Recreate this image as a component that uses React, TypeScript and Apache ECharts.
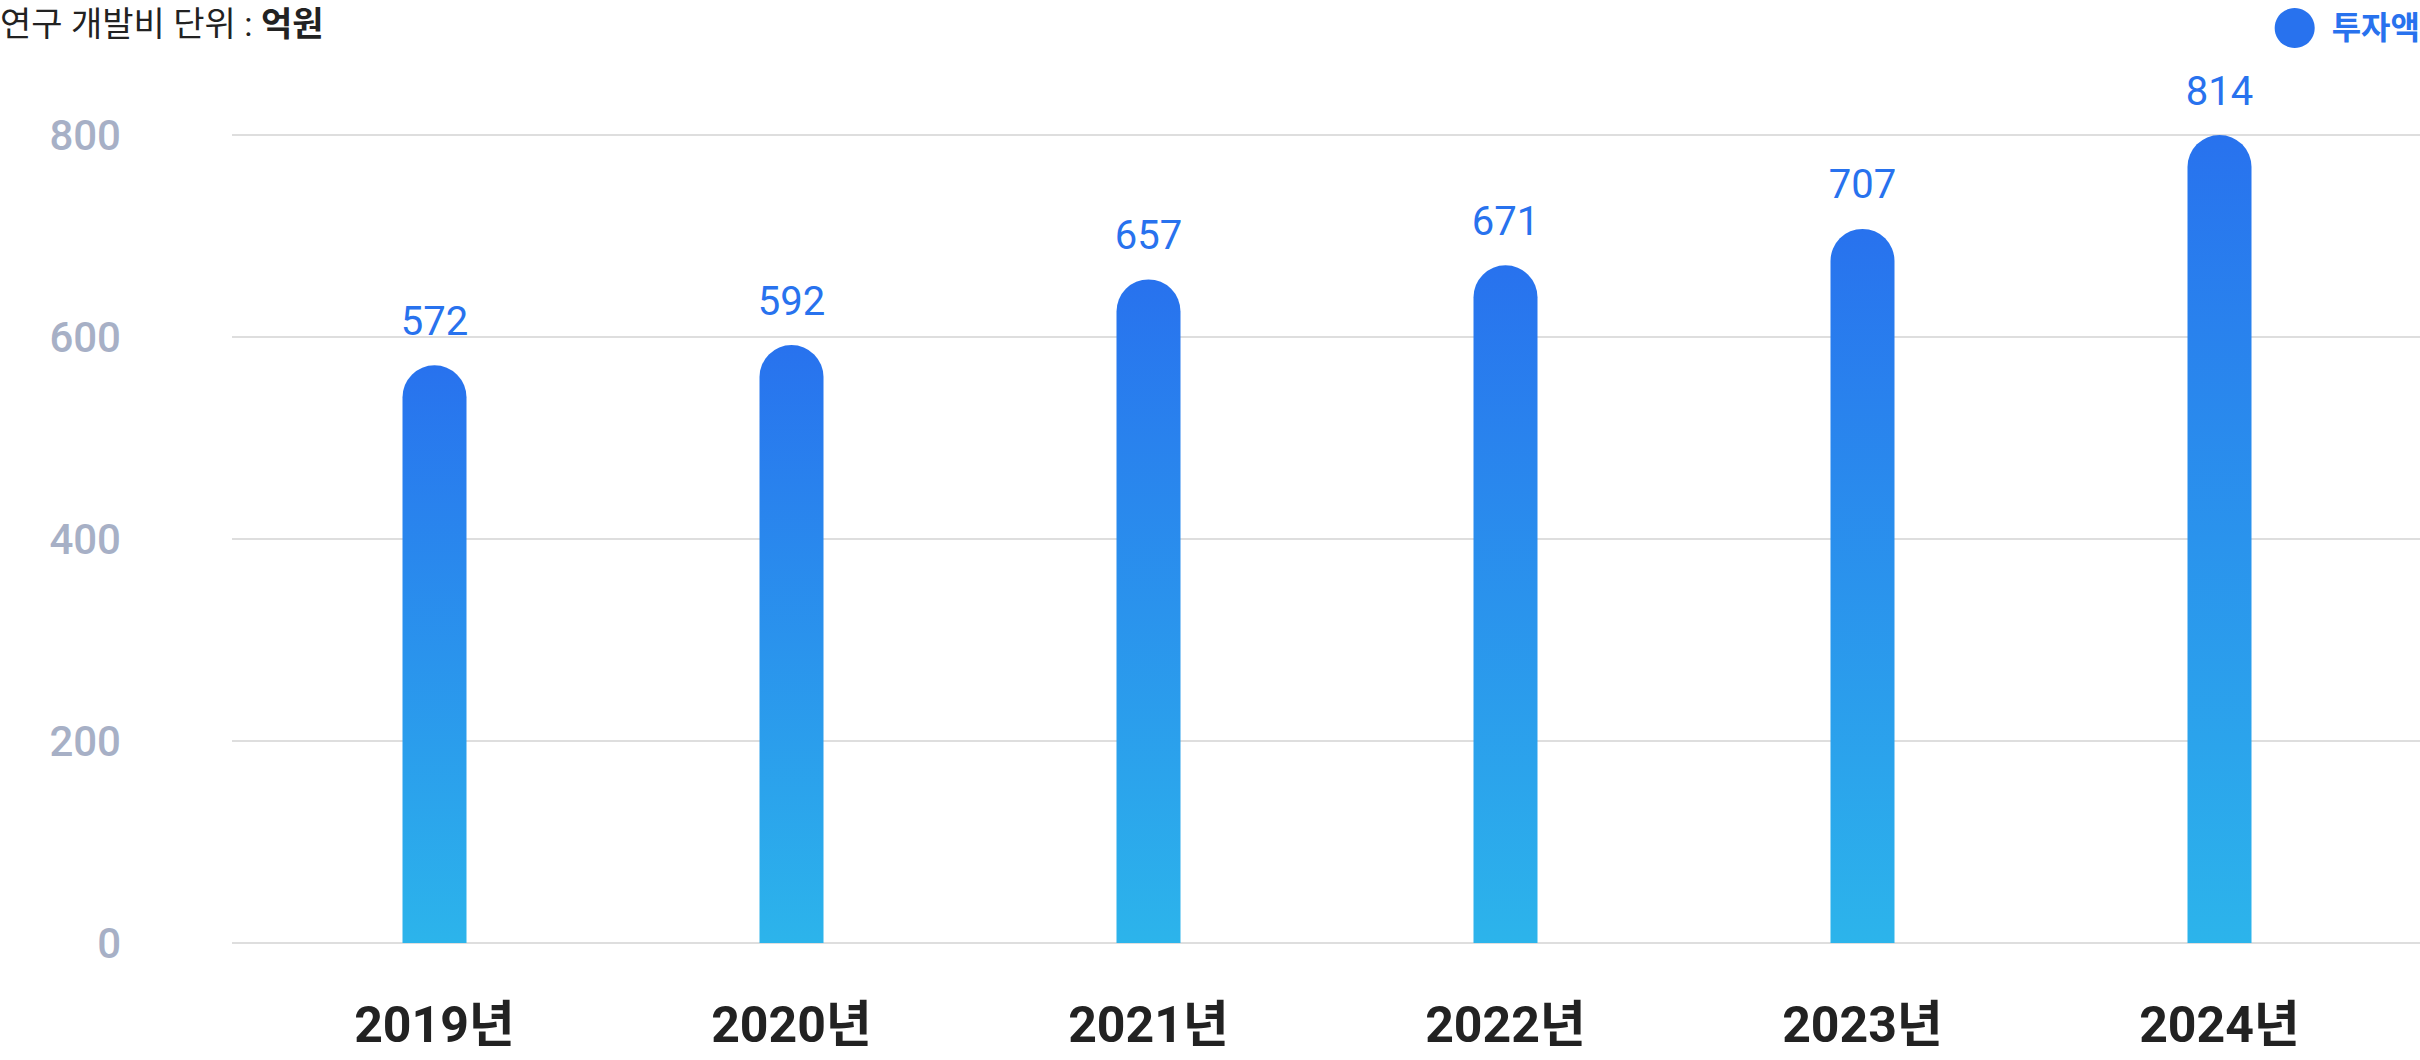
import React, { useEffect, useRef } from "react";
import * as echarts from "echarts";

const categories = ["2019년", "2020년", "2021년", "2022년", "2023년", "2024년"];
const investment = [572, 592, 657, 671, 707, 814];
const yTicks = { min: 0, max: 800, interval: 200 };
const seriesName = "투자액";
const titleMain = "연구 개발비 단위 : ";
const titleUnit = "억원";

const FONT = "Roboto, 'Noto Sans CJK KR', 'Noto Sans', sans-serif";

export default function App() {
  const ref = useRef<HTMLDivElement>(null);

  useEffect(() => {
    document.body.style.margin = "0";
    if (!ref.current) return;
    const chart = echarts.init(ref.current, null, { renderer: "svg" });
    const gradient = new echarts.graphic.LinearGradient(0, 0, 0, 1, [
      { offset: 0, color: "#2872ee" },
      { offset: 1, color: "#2cb4eb" },
    ]);
    chart.setOption({
      animation: false,
      backgroundColor: "#ffffff",
      textStyle: { fontFamily: FONT },
      title: {
        left: 0,
        top: 7,
        padding: 0,
        text: `{a|${titleMain}}{b|${titleUnit}}`,
        textStyle: {
          rich: {
            a: { fontSize: 34, color: "#222222", fontFamily: FONT, fontWeight: 400 },
            b: { fontSize: 34, color: "#222222", fontFamily: FONT, fontWeight: 700 },
          },
        },
      },
      legend: {
        right: 0,
        top: 8,
        padding: 0,
        icon: "circle",
        itemWidth: 40,
        itemHeight: 40,
        selectedMode: false,
        data: [{ name: seriesName, itemStyle: { color: "#2872ee" } }],
        textStyle: {
          fontSize: 32,
          fontWeight: 700,
          color: "#2872ee",
          fontFamily: FONT,
          padding: [0, 0, 0, 12],
        },
      },
      grid: [
        { left: 232, right: 0, top: 135, bottom: 117, containLabel: false },
        { left: 256, right: 22, top: 135, bottom: 117, containLabel: false },
      ],
      xAxis: [
        {
          type: "category",
          gridIndex: 0,
          data: categories,
          show: false,
        },
        {
          type: "category",
          gridIndex: 1,
          data: categories,
          axisLine: { show: false },
          axisTick: { show: false },
          axisLabel: {
            margin: 57,
            fontSize: 50,
            fontWeight: 700,
            color: "#222222",
            fontFamily: FONT,
          },
        },
      ],
      yAxis: [
        {
          type: "value",
          gridIndex: 0,
          min: yTicks.min,
          max: yTicks.max,
          interval: yTicks.interval,
          axisLine: { show: false },
          axisTick: { show: false },
          axisLabel: {
            margin: 111,
            fontSize: 42,
            fontWeight: 500,
            color: "#a7b0c6",
            fontFamily: FONT,
          },
          splitLine: { lineStyle: { color: "#dedede", width: 2 } },
        },
        {
          type: "value",
          gridIndex: 1,
          min: yTicks.min,
          max: yTicks.max,
          interval: yTicks.interval,
          show: false,
          splitLine: { show: false },
        },
      ],
      series: [
        {
          name: seriesName,
          type: "bar",
          xAxisIndex: 1,
          yAxisIndex: 1,
          data: investment,
          barWidth: 64,
          itemStyle: { color: gradient, borderRadius: [32, 32, 0, 0] },
          label: {
            show: true,
            position: "top",
            distance: 24,
            fontSize: 40,
            fontWeight: 400,
            color: "#2872ee",
            fontFamily: FONT,
          },
        },
      ],
    });
    return () => chart.dispose();
  }, []);

  return <div ref={ref} style={{ width: 2420, height: 1060 }} />;
}
